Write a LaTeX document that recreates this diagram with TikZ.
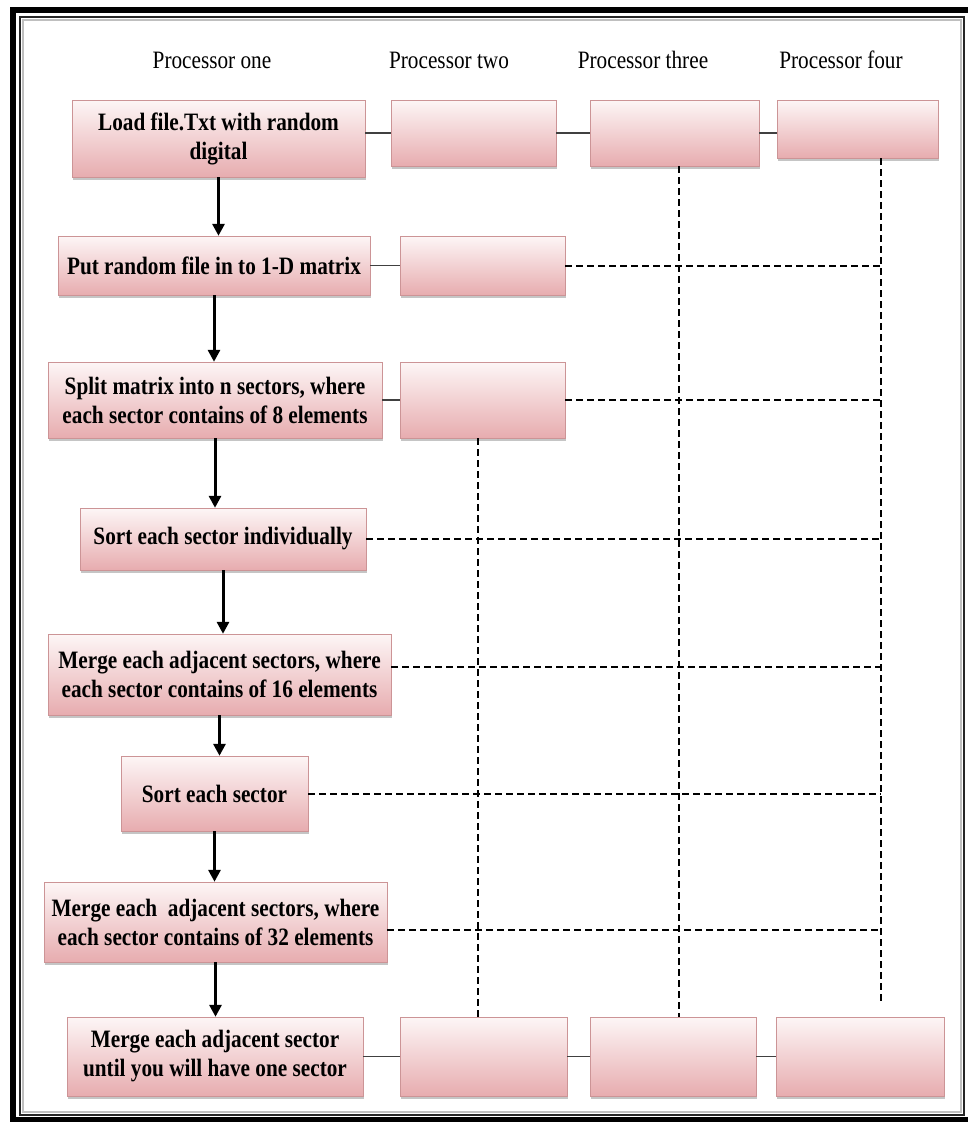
\documentclass[tikz,border=0pt]{standalone}
\usepackage{fontspec}
\setmainfont{Liberation Serif}[FakeStretch=0.85]
\usetikzlibrary{arrows.meta, shadows}

\definecolor{boxtop}{RGB}{253,246,246}
\definecolor{boxbottom}{RGB}{231,172,175}
\definecolor{boxline}{RGB}{204,148,150}

\begin{document}
\begin{tikzpicture}[
            x = 1pt, y = -1pt, % pixel grid, y grows downwards
            > = {Triangle[length=12pt, width=12pt]}, % arrow head style
            semithick % line style
        ]

        \tikzstyle{procbox}=[
            draw = boxline,
            thin,
            top color = boxtop,
            bottom color = boxbottom,
            drop shadow = {shadow xshift=1pt, shadow yshift=-2.5pt, fill=black!45},
            inner sep = 0pt,
            align = center,
            font = \fontsize{25}{29}\selectfont\bfseries
        ]
        \tikzstyle{header}=[font = \fontsize{25}{29}\selectfont]
        \tikzstyle{flow}=[->, line width = 3pt]
        \tikzstyle{link}=[line width = 1.2pt, black!75]
        \tikzstyle{sync}=[line width = 2pt, dash pattern = on 7pt off 4pt]

        \useasboundingbox (0,0) rectangle (968,1122);

        % frame
        \draw[line width = 6pt] (13,10) rectangle (975,1120);
        \draw[line width = 2.5pt, black!25] (23,20) rectangle (961,1112);
        \draw[line width = 1.2pt, black!85] (20,17) rectangle (964,1115);

        % column headers
        \node[header] (h1) at (212,60) {Processor one};
        \node[header] (h2) at (449,60) {Processor two};
        \node[header] (h3) at (643,60) {Processor three};
        \node[header] (h4) at (841,60) {Processor four};

        % processor one steps
        \node[procbox, minimum width=293pt, minimum height=77pt] (A1) at (218.5,138.5) {Load file.Txt with random\\digital};
        \node[procbox, minimum width=312pt, minimum height=59pt] (B1) at (214,265.5) {Put random file in to 1-D matrix};
        \node[procbox, minimum width=334pt, minimum height=76pt] (C1) at (215,400) {Split matrix into n sectors, where\\each sector contains of 8 elements};
        \node[procbox, minimum width=286pt, minimum height=62pt] (D1) at (223,539) {Sort each sector individually};
        \node[procbox, minimum width=343pt, minimum height=81pt] (E1) at (219.5,674.5) {Merge each adjacent sectors, where\\each sector contains of 16 elements};
        \node[procbox, minimum width=187pt, minimum height=75pt] (F1) at (214.5,793.5) {Sort each sector};
        \node[procbox, minimum width=343pt, minimum height=80pt] (G1) at (215.5,922) {Merge each~ adjacent sectors, where\\each sector contains of 32 elements};
        \node[procbox, minimum width=296pt, minimum height=79pt] (H1) at (215,1056.5) {Merge each adjacent sector\\until you will have one sector};

        % other processors
        \node[procbox, minimum width=165pt, minimum height=66pt] (A2) at (473.5,133) {};
        \node[procbox, minimum width=169pt, minimum height=66pt] (A3) at (674.5,133) {};
        \node[procbox, minimum width=161pt, minimum height=58pt] (A4) at (857.5,129) {};
        \node[procbox, minimum width=165pt, minimum height=59pt] (B2) at (482.5,265.5) {};
        \node[procbox, minimum width=165pt, minimum height=76pt] (C2) at (482.5,400) {};
        \node[procbox, minimum width=167pt, minimum height=79pt] (H2) at (483.5,1056.5) {};
        \node[procbox, minimum width=166pt, minimum height=79pt] (H3) at (673,1056.5) {};
        \node[procbox, minimum width=168pt, minimum height=79pt] (H4) at (860,1056.5) {};

        \coordinate (col2) at (478,0);
        \coordinate (col3) at (679,0);
        \coordinate (col4) at (881,0);
        \coordinate (p4end) at (881,1003);

        % flow of processor one
        \draw[flow] (A1.south) -- (A1.south |- B1.north);
        \draw[flow] (B1.south) -- (B1.south |- C1.north);
        \draw[flow] (C1.south) -- (C1.south |- D1.north);
        \draw[flow] (D1.south) -- (D1.south |- E1.north);
        \draw[flow] (E1.south) -- (E1.south |- F1.north);
        \draw[flow] (F1.south) -- (F1.south |- G1.north);
        \draw[flow] (G1.south) -- (G1.south |- H1.north);

        % solid links
        \draw[link] (A1.east |- A2.west) -- (A2.west);
        \draw[link] (A2) -- (A3);
        \draw[link] (A3.east) -- (A3.east -| A4.west);
        \draw[link] (B1) -- (B2);
        \draw[link] (C1) -- (C2);
        \draw[link] (H1) -- (H2);
        \draw[link] (H2) -- (H3);
        \draw[link] (H3) -- (H4);

        % dashed synchronisation lines
        \draw[sync] (A4.south -| col4) -- (p4end);
        \draw[sync] (A3.south -| col3) -- (H3.north -| col3);
        \draw[sync] (C2.south -| col2) -- (H2.north -| col2);
        \draw[sync] (B2.east) -- (B2.east -| col4);
        \draw[sync] (C2.east) -- (C2.east -| col4);
        \draw[sync] (D1.east) -- (D1.east -| col4);
        \draw[sync] ([yshift=8pt]E1.east) -- ([yshift=8pt]E1.east -| col4);
        \draw[sync] (F1.east) -- (F1.east -| col4);
        \draw[sync] ([yshift=-8pt]G1.east) -- ([yshift=-8pt]G1.east -| col4);

  \end{tikzpicture}
\end{document}
